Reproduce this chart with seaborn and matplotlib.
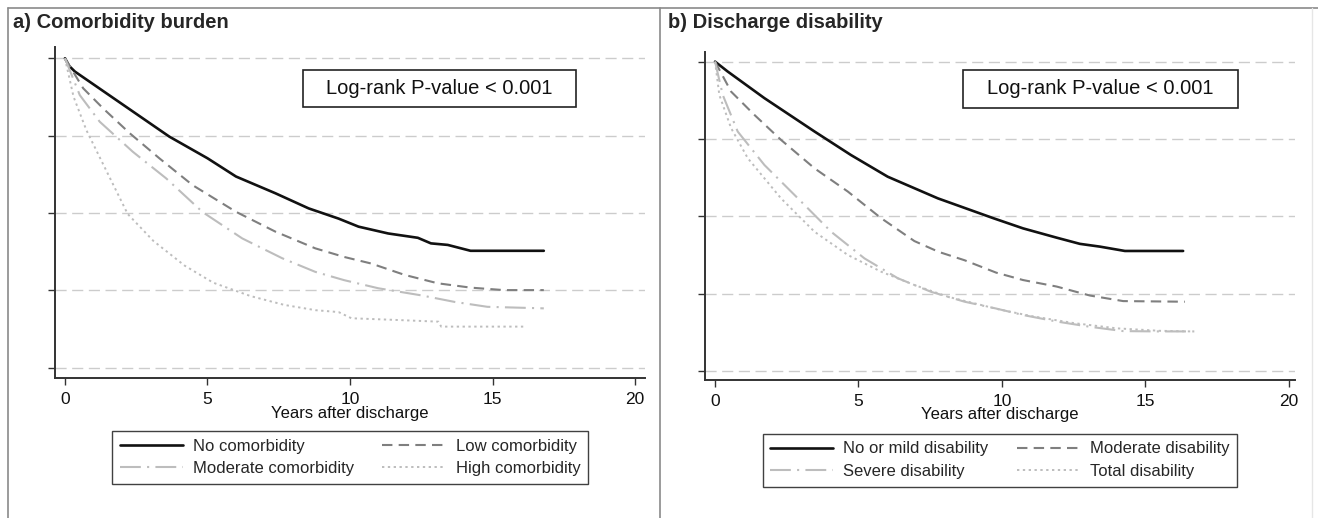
"""
Kaplan-Meier style survival curves, two panels:
a) comorbidity burden, b) discharge disability
"""

import matplotlib
matplotlib.use("Agg")
import matplotlib.pyplot as plt
from matplotlib.lines import Line2D
from matplotlib.patches import Rectangle
import seaborn as sns

W, H = 1318, 518

# ---- panel a: comorbidity burden (years, survival) ----
no_comorb_t = [0, 0.15, 0.35, 0.87, 1.8, 2.73, 3.66, 5.0, 6.0, 7.38, 8.55, 9.6,
               10.3, 11.34, 12.38, 12.84, 13.43, 14.23, 16.8]
no_comorb_s = [1.0, 0.975, 0.957, 0.924, 0.865, 0.806, 0.747, 0.677, 0.618, 0.564,
               0.515, 0.482, 0.456, 0.434, 0.420, 0.402, 0.397, 0.378, 0.378]

low_comorb_t = [0, 0.64, 1.34, 2.27, 3.31, 4.48, 6.0, 7.38, 8.78, 9.8, 10.74,
                11.92, 13.08, 14.23, 15.4, 16.8]
low_comorb_s = [1.0, 0.903, 0.838, 0.758, 0.677, 0.590, 0.504, 0.440, 0.386, 0.358,
                0.337, 0.300, 0.273, 0.259, 0.251, 0.251]

mod_comorb_t = [0, 0.52, 1.22, 2.38, 3.55, 4.83, 6.22, 7.62, 8.78, 9.8, 10.99,
                12.5, 13.66, 14.82, 16.8]
mod_comorb_s = [1.0, 0.881, 0.795, 0.698, 0.612, 0.503, 0.418, 0.354, 0.310, 0.283,
                0.257, 0.234, 0.213, 0.197, 0.192]

high_comorb_t = [0, 0.3, 0.75, 1.3, 2.2, 3.1, 4.2, 5.2, 6.5, 7.7, 8.8, 9.6, 10.05,
                 11.5, 13.1, 13.2, 16.2]
high_comorb_s = [1.0, 0.876, 0.768, 0.665, 0.497, 0.410, 0.330, 0.275, 0.232, 0.203,
                 0.186, 0.180, 0.160, 0.155, 0.149, 0.133, 0.133]

# ---- panel b: discharge disability ----
mild_dis_t = [0, 0.44, 1.72, 3.47, 4.74, 6.02, 7.77, 9.7, 10.74, 11.91, 12.72,
              13.42, 14.29, 16.32]
mild_dis_s = [1.0, 0.968, 0.882, 0.774, 0.698, 0.628, 0.558, 0.494, 0.461, 0.431,
              0.411, 0.402, 0.388, 0.388]

mod_dis_t = [0, 0.56, 1.37, 2.3, 3.47, 4.63, 5.79, 6.95, 7.8, 8.7, 9.8, 10.74, 11.91,
             13.07, 14.23, 16.38]
mod_dis_s = [1.0, 0.903, 0.828, 0.747, 0.655, 0.580, 0.494, 0.420, 0.385, 0.358, 0.318,
             0.294, 0.273, 0.244, 0.226, 0.224]

severe_dis_t = [0, 0.27, 0.79, 1.72, 2.89, 4.05, 5.21, 6.37, 7.53, 8.7, 9.8,
                10.74, 11.91, 13.07, 14.23, 15.4, 16.85]
severe_dis_s = [1.0, 0.892, 0.774, 0.666, 0.558, 0.450, 0.364, 0.300, 0.256, 0.224,
                0.202, 0.181, 0.160, 0.143, 0.129, 0.128, 0.128]

total_dis_t = [0, 0.15, 0.56, 1.14, 2.3, 3.47, 4.63, 5.79, 6.95, 8.12, 9.86, 11.0,
               12.5, 14.0, 15.5, 16.6]
total_dis_s = [1.0, 0.892, 0.785, 0.688, 0.558, 0.450, 0.375, 0.321, 0.278, 0.240,
               0.200, 0.178, 0.155, 0.138, 0.130, 0.128]

labels_a = ["No comorbidity", "Low comorbidity", "Moderate comorbidity", "High comorbidity"]
labels_b = ["No or mild disability", "Moderate disability", "Severe disability", "Total disability"]
x_ticks = [0, 5, 10, 15, 20]
y_ticks = [0, 0.25, 0.5, 0.75, 1.0]

# line looks, same order for both panels
styles = [
    dict(color="#111111", lw=1.9, linestyle="-"),
    dict(color="#7f7f7f", lw=1.5, linestyle=(0, (5, 3))),
    dict(color="#bdbdbd", lw=1.5, linestyle=(0, (10, 3, 1, 3))),
    dict(color="#bdbdbd", lw=1.4, linestyle=(0, (1.2, 1.8))),
]

sns.set_theme(style="white")
plt.rcParams["font.family"] = ["Liberation Sans", "DejaVu Sans"]


def draw_panel(ax, series, labels, xlim, ylim):
    for (t, s), lab, st in zip(series, labels, styles):
        sns.lineplot(x=t, y=s, ax=ax, estimator=None, sort=False, label=lab, **st)
    handles, _ = ax.get_legend_handles_labels()
    ax.set_xlim(*xlim)
    ax.set_ylim(*ylim)
    ax.set_xticks(x_ticks)
    ax.set_yticks(y_ticks)
    ax.set_yticklabels([])
    ax.set_ylabel("")
    ax.yaxis.grid(True, color="#cccccc", lw=1.0, linestyle=(0, (8, 4)))
    ax.xaxis.grid(False)
    for side in ["top", "right"]:
        ax.spines[side].set_visible(False)
    for side in ["left", "bottom"]:
        ax.spines[side].set_color("#333333")
        ax.spines[side].set_linewidth(1.4)
    ax.tick_params(axis="both", direction="out", length=5, width=1.0,
                   color="#333333", left=True, bottom=True)
    ax.tick_params(axis="x", labelsize=12.5, pad=5, labelcolor="#111111")
    ax.set_xlabel("Years after discharge", fontsize=12, labelpad=-1, color="#111111")
    ax.get_legend().remove()
    return handles


fig = plt.figure(figsize=(W / 100, H / 100), dpi=100)
ax_a = fig.add_axes([55 / W, 1 - 378.3 / H, (645 - 55) / W, (378.3 - 46.7) / H])
ax_b = fig.add_axes([705 / W, 1 - 380 / H, (1295 - 705) / W, (380 - 51.7) / H])

h_a = draw_panel(ax_a,
                 [(no_comorb_t, no_comorb_s), (low_comorb_t, low_comorb_s),
                  (mod_comorb_t, mod_comorb_s), (high_comorb_t, high_comorb_s)],
                 labels_a, (-0.35, 20.35), (-0.034, 1.0375))
h_b = draw_panel(ax_b,
                 [(mild_dis_t, mild_dis_s), (mod_dis_t, mod_dis_s),
                  (severe_dis_t, severe_dis_s), (total_dis_t, total_dis_s)],
                 labels_b, (-0.35, 20.22), (-0.029, 1.032))

# legends: column-first fill, so reorder to get rows (1,2) / (3,4)
for ax, hs, labs, cx, top in [(ax_a, h_a, labels_a, 350, 431), (ax_b, h_b, labels_b, 1000, 434)]:
    order = [0, 2, 1, 3]
    leg = ax.legend([hs[i] for i in order], [labs[i] for i in order], ncol=2,
                    loc="upper center", bbox_to_anchor=(cx / W, 1 - top / H),
                    bbox_transform=fig.transFigure, fontsize=12, frameon=True,
                    fancybox=False, edgecolor="#111111", handlelength=3.8,
                    handletextpad=0.6, columnspacing=1.7, labelspacing=0.45,
                    borderpad=0.45, borderaxespad=0)
    leg.get_frame().set_linewidth(1.0)

# log-rank boxes
for x0, x1, y0, y1 in [(303, 576, 70, 107), (963, 1238, 70, 108)]:
    fig.patches.append(Rectangle((x0 / W, 1 - y1 / H), (x1 - x0) / W, (y1 - y0) / H,
                                 transform=fig.transFigure, fill=False,
                                 edgecolor="#222222", lw=1.2))
    fig.text((x0 + x1) / 2 / W, 1 - (y0 + y1) / 2 / H, "Log-rank P-value < 0.001",
             ha="center", va="center", fontsize=14.5, color="#111111")

# panel titles
fig.text(13 / W, 1 - 22 / H, "a) Comorbidity burden", fontsize=14.5,
         fontweight="bold", va="center", ha="left")
fig.text(668 / W, 1 - 22 / H, "b) Discharge disability", fontsize=14.5,
         fontweight="bold", va="center", ha="left")

# outer frame of the two graph panels
frame = dict(transform=fig.transFigure, color="#8a8a8a", lw=1.2)
fig.add_artist(Line2D([8 / W, 1], [1 - 8 / H, 1 - 8 / H], **frame))
fig.add_artist(Line2D([8 / W, 8 / W], [0, 1 - 8 / H], **frame))
fig.add_artist(Line2D([660 / W, 660 / W], [0, 1 - 8 / H], **frame))
fig.add_artist(Line2D([1312 / W, 1312 / W], [0, 1 - 8 / H],
                      transform=fig.transFigure, color="#e6e6e6", lw=1.0))

fig.savefig("out.png", dpi=100)
